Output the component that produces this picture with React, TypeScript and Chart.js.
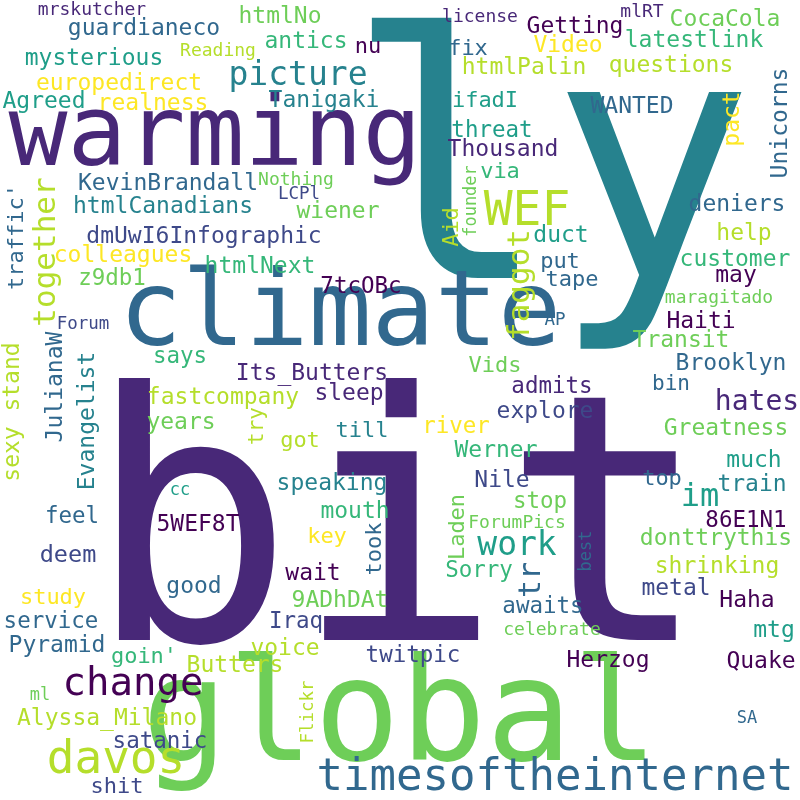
import React, { useEffect, useRef } from 'react';
import Chart from 'chart.js/auto';

// word cloud: each word sits at (x, y) in a 0..800 data space
// y is the baseline for horizontal words, the centre for vertical ones
const words = [
  'bit', 'ly', 'global', 'climate', 'warming', 'timesoftheinternet', 'davos', 'change', 'WEF', 'picture', 'hates', 'work', 'im',
  'together', 'faggot', 'tr', "traffic'", 'stand', 'sexy', 'JulianaW', 'Evangelist', 'try', 'took', 'Laden', 'best', 'Flickr', 'Aid', 'founder', 'pact', 'Unicorns',
  'mrskutcher', 'guardianeco', 'htmlNo', 'antics', 'nu', 'Reading', 'mysterious', 'europedirect', 'Agreed', 'realness', 'Tanigaki',
  'KevinBrandall', 'Nothing', 'LCPl', 'htmlCanadians', 'wiener', 'dmUwI6Infographic', 'colleagues', 'htmlNext', 'z9db1', '7tcOBc',
  'Forum', 'says', 'Its_Butters', 'fastcompany', 'sleep',
  'license', 'mlRT', 'Getting', 'CocaCola', 'fix', 'Video', 'latestlink', 'htmlPalin', 'questions', 'ifadI', 'WANTED', 'threat',
  'Thousand', 'via', 'deniers', 'duct', 'help', 'customer', 'put', 'tape', 'may', 'maragitado', 'AP', 'Haiti', 'Transit', 'Vids',
  'Brooklyn', 'admits', 'bin',
  'years', 'till', 'got', 'speaking', 'cc', 'mouth', 'feel', '5WEF8T', 'key', 'deem', 'wait', 'good', 'study', '9ADhDAt', 'service',
  'Iraq', 'Pyramid', 'voice', "goin'", 'Butters', 'twitpic', 'ml', 'Alyssa_Milano', 'satanic', 'shit',
  'explore', 'river', 'Greatness', 'Werner', 'much', 'Nile', 'top', 'train', 'stop', 'ForumPics', '86E1N1', 'donttrythis', 'Sorry',
  'shrinking', 'metal', 'Haha', 'awaits', 'celebrate', 'mtg', 'Herzog', 'Quake', 'SA',
];

const weights = [
  345, 340, 143, 105, 98, 44, 46, 39, 48, 33, 28, 33, 32,
  31, 31, 30, 22, 23, 23, 23, 23, 21, 22, 22, 17, 17.5, 22, 17, 23, 23,
  18, 23, 23, 23, 22, 18, 23, 23, 23, 23, 23,
  23, 18, 17.5, 23, 23, 23, 23, 23, 22.5, 22.5,
  17.5, 22.5, 23, 23, 23,
  18, 18, 23, 23, 22, 23, 23, 23, 23, 22, 23, 22.5,
  23, 22, 23, 23, 23, 23, 22, 22, 23, 18, 17.5, 23, 23, 22,
  23, 22.5, 21,
  23, 22, 22, 23, 17, 23, 22.5, 23, 22, 23.5, 23, 23, 22, 23, 22.5,
  22.5, 23, 23, 22, 23, 22.5, 17, 23, 22.5, 22,
  23, 22.5, 23, 23, 23, 23, 22, 23, 22.5, 18, 22.5, 23, 22.5,
  23, 23, 23, 22.5, 18, 23, 23, 23, 17,
];

const xs = [
  398, 550, 400, 340, 215, 555, 116, 133, 527, 298, 757, 517, 700,
  47, 521, 532, 17, 13, 13, 56, 88, 258, 375, 458, 587, 308, 452, 472, 733, 781,
  92, 144, 280, 306, 368, 218, 94, 119, 44, 153, 324,
  168, 296, 299, 163, 338, 204, 123, 260, 112, 361,
  83, 180, 312, 223, 349,
  480, 642, 575, 725, 468, 568, 694, 524, 671, 485, 632, 492,
  503, 500, 737, 561, 744, 735, 560, 572, 736, 719, 555, 701, 681, 495,
  731, 552, 671,
  181, 362, 300, 332, 180, 355, 72, 198, 327, 68, 313, 194, 53, 340, 51,
  296, 57, 285, 144, 235, 413, 40, 107, 160, 117,
  545, 456, 726, 496, 754, 502, 662, 752, 540, 517, 746, 716, 479,
  717, 676, 747, 543, 552, 774, 608, 761, 747,
];

const ys = [
  640, 278, 760, 345, 165, 790, 773, 695, 225, 85, 410, 555, 506,
  252, 285, 580, 237, 377, 454, 387, 421, 426, 549, 527, 551, 712, 227, 201, 119, 123,
  15, 35, 23, 48, 53, 56, 65, 90, 108, 110, 107,
  190, 185, 199, 213, 218, 243, 262, 273, 285, 293,
  329, 363, 380, 404, 400,
  22, 17, 33, 26, 55, 52, 47, 74, 72, 107, 113, 137,
  156, 178, 211, 242, 240, 266, 268, 286, 282, 303, 325, 328, 347, 372,
  370, 393, 390,
  429, 437, 447, 490, 495, 518, 523, 531, 543, 562, 580, 593, 604, 607, 628,
  628, 652, 655, 663, 672, 662, 700, 725, 748, 793,
  418, 433, 435, 457, 467, 487, 485, 491, 508, 528, 527, 545, 577,
  573, 595, 607, 613, 635, 637, 667, 668, 723,
];

const verticalWords = [
  'together', 'faggot', 'tr', "traffic'", 'stand', 'sexy', 'JulianaW', 'Evangelist', 'try', 'took', 'Laden', 'best', 'Flickr',
  'Aid', 'founder', 'pact', 'Unicorns',
];

const viridis = {
  P: '#440154', P2: '#482878', B: '#3e4989', B2: '#31688e', T: '#26828e',
  G1: '#1f9e89', G2: '#35b779', G3: '#6ece58', Y1: '#b5de2b', Y: '#fde725',
};
type Shade = keyof typeof viridis;

const wordShades: Shade[] = [
  'P2', 'T', 'G3', 'B2', 'P2', 'B2', 'Y1', 'P', 'Y1', 'T', 'P2', 'G1', 'G1',
  'Y1', 'Y1', 'B2', 'B2', 'Y1', 'Y1', 'B2', 'T', 'Y1', 'B2', 'G3', 'B2', 'Y1', 'Y1', 'G3', 'Y', 'B2',
  'P2', 'B2', 'G3', 'G2', 'P', 'Y1', 'G1', 'Y', 'G1', 'Y', 'T',
  'B2', 'G3', 'B', 'T', 'G3', 'B', 'Y', 'G2', 'G3', 'P',
  'B', 'G2', 'P2', 'Y1', 'P2',
  'P2', 'P2', 'P', 'G3', 'B2', 'Y', 'G2', 'Y1', 'Y1', 'G1', 'B2', 'G1',
  'P2', 'G2', 'B2', 'G1', 'Y1', 'G2', 'B2', 'B2', 'P', 'G3', 'B2', 'P', 'G3', 'G3',
  'B2', 'P2', 'B2',
  'G3', 'T', 'Y1', 'T', 'G1', 'G2', 'B2', 'P', 'Y', 'B', 'P', 'B2', 'Y', 'G3', 'B2',
  'B', 'B2', 'Y1', 'G2', 'Y1', 'B', 'G3', 'Y1', 'B', 'B',
  'B', 'Y', 'G3', 'G2', 'G1', 'B', 'B2', 'T', 'G3', 'G3', 'P', 'G3', 'G2',
  'Y1', 'B', 'P', 'B2', 'G3', 'G1', 'P', 'P', 'B2',
];

const App: React.FC = () => {
  const chartRef = useRef<HTMLCanvasElement>(null);

  useEffect(() => {
    document.body.style.margin = '0';
    if (!chartRef.current) return;
    const ctx = chartRef.current.getContext('2d');
    if (!ctx) return;

    const wordPlugin = {
      id: 'wordLabels',
      afterDatasetsDraw(chart: any) {
        const c = chart.ctx;
        const meta = chart.getDatasetMeta(0);
        meta.data.forEach((pt: any, i: number) => {
          const vertical = verticalWords.includes(words[i]);
          c.save();
          c.font = `${weights[i]}px "DejaVu Sans Mono"`;
          c.fillStyle = viridis[wordShades[i]];
          c.textAlign = 'center';
          c.translate(pt.x, pt.y);
          if (vertical) {
            c.rotate(-Math.PI / 2);
            c.textBaseline = 'middle';
          } else {
            c.textBaseline = 'alphabetic';
          }
          c.fillText(words[i], 0, 0);
          c.restore();
        });
      },
    };

    const chart = new Chart(ctx, {
      type: 'scatter',
      data: {
        datasets: [
          {
            data: words.map((_, i) => ({ x: xs[i], y: ys[i] })),
            pointRadius: 0,
            pointHoverRadius: 0,
          },
        ],
      },
      options: {
        responsive: false,
        animation: false,
        layout: { padding: 0 },
        plugins: { legend: { display: false }, tooltip: { enabled: false } },
        scales: {
          x: { min: 0, max: 800, display: false },
          y: { min: 0, max: 800, reverse: true, display: false },
        },
      },
      plugins: [wordPlugin],
    });

    return () => chart.destroy();
  }, []);

  return (
    <div style={{ width: 800, height: 800, background: '#fff' }}>
      <canvas ref={chartRef} width={800} height={800} />
    </div>
  );
};

export default App;
